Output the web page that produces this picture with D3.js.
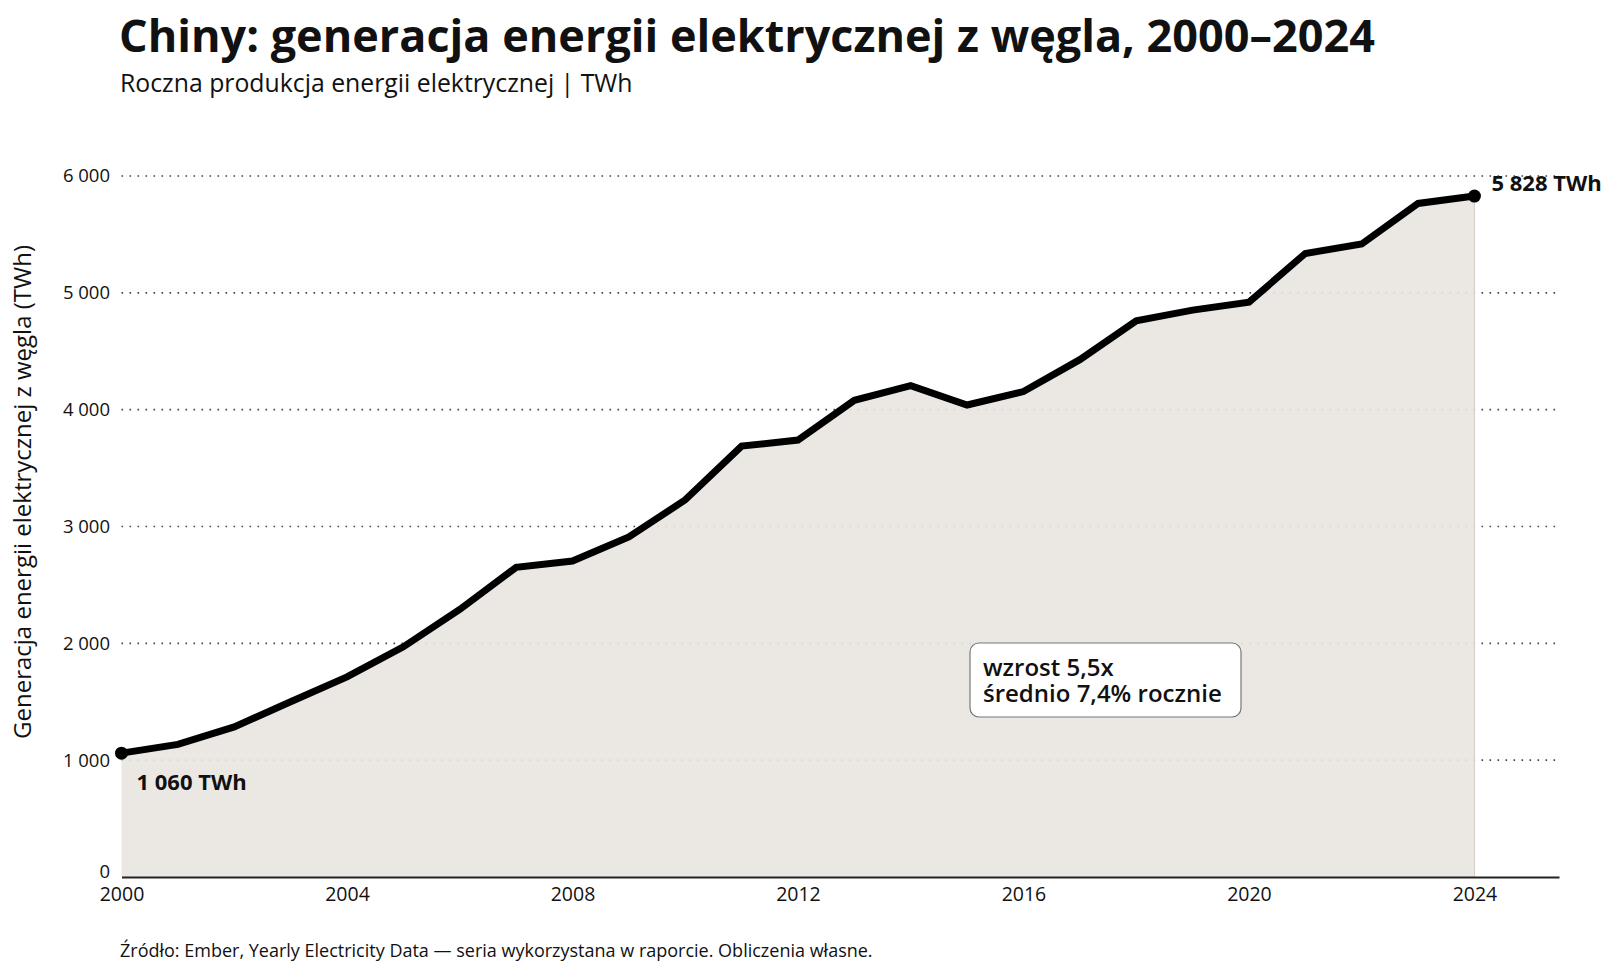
<!DOCTYPE html>
<html>
<head>
<meta charset="utf-8">
<script src="https://cdn.jsdelivr.net/npm/d3@7"></script>
<style>
  body { margin: 0; background: #fff; }
  text { font-family: "Open Sans", sans-serif; fill: #111; }
</style>
</head>
<body>
<svg width="1614" height="975"></svg>
<script>
// Data
const years = [2000, 2001, 2002, 2003, 2004, 2005, 2006, 2007, 2008, 2009, 2010, 2011, 2012,
               2013, 2014, 2015, 2016, 2017, 2018, 2019, 2020, 2021, 2022, 2023, 2024];
const coalTWh = [1060, 1135, 1285, 1500, 1713, 1970, 2290, 2650, 2705, 2910, 3228, 3688, 3740,
                 4080, 4205, 4040, 4155, 4428, 4760, 4852, 4920, 5337, 5418, 5765, 5828];
const yTicks = [0, 1000, 2000, 3000, 4000, 5000, 6000];
const xTicks = [2000, 2004, 2008, 2012, 2016, 2020, 2024];
const noteLines = ['wzrost 5,5x', 'średnio 7,4% rocznie'];

const data = years.map((y, i) => ({year: y, value: coalTWh[i]}));
const svg = d3.select('svg');

// scales
const x = d3.scaleLinear().domain([2000, 2025.5]).range([121.5, 1559]);
const y = d3.scaleLinear().domain([0, 6000]).range([877, 176]);

const fmt = v => d3.format(',')(v).replace(/,/g, ' ');

// dotted grid
svg.append('g')
  .selectAll('line')
  .data(yTicks.filter(d => d > 0))
  .join('line')
  .attr('x1', x(2000)).attr('x2', x(2025.5))
  .attr('y1', d => y(d)).attr('y2', d => y(d))
  .attr('stroke', '#444')
  .attr('stroke-width', 1.6)
  .attr('stroke-dasharray', '1.6,6.4');

// area (sits over the grid so dots fade inside)
const area = d3.area().x(d => x(d.year)).y0(y(0)).y1(d => y(d.value));
svg.append('path')
  .datum(data)
  .attr('d', area)
  .attr('fill', '#e9e5e1')
  .attr('fill-opacity', 0.9);

// faint right edge of the area
svg.append('line')
  .attr('x1', x(2024)).attr('x2', x(2024))
  .attr('y1', y(coalTWh[coalTWh.length - 1])).attr('y2', y(0))
  .attr('stroke', '#d6d1cb').attr('stroke-width', 1.2);

// y axis labels
const yAxis = d3.axisLeft(y).tickValues(yTicks).tickSize(0).tickPadding(0).tickFormat(fmt);
svg.append('g')
  .attr('transform', 'translate(110,0)')
  .call(yAxis)
  .call(g => g.select('.domain').remove())
  .call(g => g.selectAll('text').attr('font-size', 18.5).attr('font-family', '"Open Sans", sans-serif').attr('fill', '#111'))
  .call(g => g.selectAll('.tick').filter(d => d === 0).select('text').attr('dy', '0.05em'));

// x axis
const xAxis = d3.axisBottom(x).tickValues(xTicks).tickSize(0).tickPadding(10).tickFormat(d3.format('d'));
svg.append('g')
  .attr('transform', `translate(0,${y(0)})`)
  .call(xAxis)
  .call(g => g.select('.domain').attr('stroke', '#222').attr('stroke-width', 2.2))
  .call(g => g.selectAll('text').attr('font-size', 19.5).attr('font-family', '"Open Sans", sans-serif').attr('fill', '#111'));

// line
const line = d3.line().x(d => x(d.year)).y(d => y(d.value));
svg.append('path')
  .datum(data)
  .attr('d', line)
  .attr('fill', 'none')
  .attr('stroke', '#000')
  .attr('stroke-width', 7)
  .attr('stroke-linejoin', 'miter');

// end dots
const ends = [data[0], data[data.length - 1]];
svg.selectAll('circle.end')
  .data(ends)
  .join('circle')
  .attr('class', 'end')
  .attr('cx', d => x(d.year)).attr('cy', d => y(d.value))
  .attr('r', 6.5)
  .attr('fill', '#000');

// end labels
svg.append('text')
  .attr('x', x(2000) + 15).attr('y', y(data[0].value) + 37)
  .attr('font-size', 22).attr('font-weight', 700)
  .text(fmt(data[0].value) + ' TWh');
svg.append('text')
  .attr('x', x(2024) + 17).attr('y', y(data[data.length - 1].value) - 5)
  .attr('font-size', 22).attr('font-weight', 700)
  .text(fmt(data[data.length - 1].value) + ' TWh');

// annotation box (one text block, two lines)
const note = svg.append('g').attr('transform', 'translate(970,643)');
note.append('rect')
  .attr('width', 271).attr('height', 74)
  .attr('rx', 9)
  .attr('fill', '#fff')
  .attr('stroke', '#777')
  .attr('stroke-width', 1.2);
note.append('text')
  .attr('font-size', 24).attr('font-weight', 600)
  .selectAll('tspan')
  .data(noteLines)
  .join('tspan')
  .attr('x', 13).attr('y', (d, i) => 33 + i * 26)
  .text(d => d);

// y axis title
svg.append('text')
  .attr('transform', 'translate(31,492) rotate(-90)')
  .attr('text-anchor', 'middle')
  .attr('font-size', 24)
  .text('Generacja energii elektrycznej z węgla (TWh)');

// titles
svg.append('text')
  .attr('x', 119).attr('y', 52)
  .attr('font-size', 45).attr('font-weight', 700)
  .text('Chiny: generacja energii elektrycznej z węgla, 2000–2024');
svg.append('text')
  .attr('x', 120).attr('y', 92)
  .attr('font-size', 24.8)
  .text('Roczna produkcja energii elektrycznej | TWh');

// source
svg.append('text')
  .attr('x', 120).attr('y', 957)
  .attr('font-size', 18)
  .text('Źródło: Ember, Yearly Electricity Data — seria wykorzystana w raporcie. Obliczenia własne.');
</script>
</body>
</html>
